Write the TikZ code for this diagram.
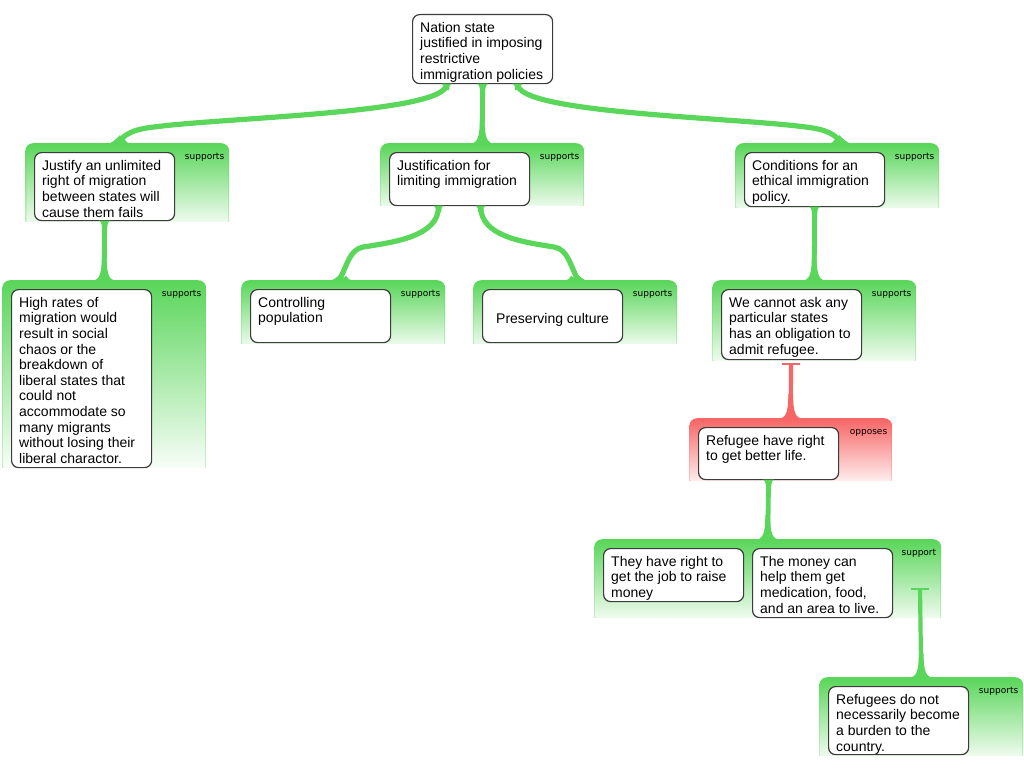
\documentclass[tikz,border=0pt]{standalone}
\usepackage{fontspec}
\setmainfont{Liberation Sans}
\newfontfamily\tagfont{DejaVu Sans}
\usetikzlibrary{positioning}
\definecolor{linkgreen}{RGB}{90,214,90}
\definecolor{linkred}{RGB}{247,102,102}
\definecolor{boxgray}{RGB}{60,60,60}

\begin{document}
\begin{tikzpicture}
		[x=1pt,y=-1pt,
		panel/.style={anchor=north west,inner sep=0,minimum width=204,fill=white,
			path picture={
				\shade[rounded corners=8,top color=#1,bottom color=#1!30!white]
					(path picture bounding box.north west) rectangle ([yshift=-9]path picture bounding box.south east);
				\shade[rounded corners=7,top color=#1,bottom color=white]
					([xshift=1.4,yshift=-1]path picture bounding box.north west) rectangle ([xshift=-1.4,yshift=-9]path picture bounding box.south east);
			}},
		argbox/.style={draw=boxgray,line width=1.2,fill=white,rounded corners=7,
			anchor=north west,inner sep=0,minimum width=140},
		argtext/.style={anchor=north west,inner sep=0,align=left,
			font=\fontsize{14}{15.6}\selectfont},
		tag/.style={anchor=north east,inner sep=0,text height=6.5pt,
			font=\tagfont\fontsize{9}{11}\selectfont},
		link/.style={draw=#1,line width=4.8},
		pics/footflare/.style={code={\fill[#1] (-12.5,0.5) .. controls (-5,0.5) and (-2.4,-5) .. (-2.4,-24)
			-- (2.4,-24) .. controls (2.4,-5) and (5,0.5) .. (12.5,0.5) -- cycle;}},
		pics/sweepflare/.style={code={
			\fill[#1] (-10,0.5) .. controls (-5,0.5) and (-1,-4) .. (3,-8) -- (4,0.5) -- cycle;
			\fill[#1] (16,0.5) .. controls (10,0.5) and (8,-1.5) .. (7,-4.2) -- (0,0.5) -- cycle;}},
		pics/headflare/.style={code={\fill[#1] (-5.5,-0.5) .. controls (-3,1) and (-2.4,3) .. (-2.4,13)
			-- (2.4,13) .. controls (2.4,3) and (3,1) .. (5.5,-0.5) -- cycle;}},
		pics/tipflare/.style={code={\fill[#1] (-5,-0.5) .. controls (-3,0.5) and (-2.6,2) .. (-2.6,6)
			-- (2.6,6) .. controls (2.6,2) and (3,0.5) .. (5,-0.5) -- cycle;}}]
		\useasboundingbox (0,0) rectangle (1024,768);

		% panels
		\node[panel=linkgreen,minimum height=78] (p1) at (25,143) {};
		\node[panel=linkgreen,minimum height=62] (p2) at (380,143) {};
		\node[panel=linkgreen,minimum height=64] (p3) at (735,143) {};
		\node[panel=linkgreen,minimum height=187] (p4) at (2,280) {};
		\node[panel=linkgreen,minimum height=63] (p5) at (241,280) {};
		\node[panel=linkgreen,minimum height=63] (p6) at (473,280) {};
		\node[panel=linkgreen,minimum height=80] (p7) at (712,280) {};
		\node[panel=linkred,minimum height=62,minimum width=203] (p8) at (689,418) {};
		\node[panel=linkgreen,minimum height=78,minimum width=347] (p9) at (594,539) {};
		\node[panel=linkgreen,minimum height=78] (p10) at (819,677) {};

		\foreach \p/\word in {p1/supports, p2/supports, p3/supports, p4/supports, p5/supports,
			p6/supports, p7/supports, p8/opposes, p9/support, p10/supports}
		{
			\node[tag,below left=10pt and 5pt of \p.north east] (\p tag) {\word};
		}

		% claims
		\node[argbox,minimum height=69] (nation) at (412,14) {};
		\node[argtext,below right=8pt and 8pt of nation.north west] (nationT)
			{Nation state\\justified in imposing\\restrictive\\immigration policies};

		\node[argbox,minimum height=68,below right=9pt and 9pt of p1.north west] (justify) {};
		\node[argtext,below right=8pt and 8pt of justify.north west] (justifyT)
			{Justify an unlimited\\right of migration\\between states will\\cause them fails};

		\node[argbox,minimum height=53,below right=9pt and 9pt of p2.north west] (justif) {};
		\node[argtext,below right=8pt and 8pt of justif.north west] (justifT)
			{Justification for\\limiting immigration};

		\node[argbox,minimum height=54,below right=9pt and 9pt of p3.north west] (conditions) {};
		\node[argtext,below right=8pt and 8pt of conditions.north west] (conditionsT)
			{Conditions for an\\ethical immigration\\policy.};

		\node[argbox,minimum height=178,below right=9pt and 9pt of p4.north west] (highrates) {};
		\node[argtext,below right=8pt and 8pt of highrates.north west] (highratesT)
			{High rates of\\migration would\\result in social\\chaos or the\\breakdown of\\liberal states that\\could not\\accommodate so\\many migrants\\without losing their\\liberal charactor.};

		\node[argbox,minimum height=53,below right=9pt and 9pt of p5.north west] (population) {};
		\node[argtext,below right=8pt and 8pt of population.north west] (populationT)
			{Controlling\\population};

		\node[argbox,minimum height=53,below right=9pt and 9pt of p6.north west] (culture) {};
		\node[argtext,anchor=center] (cultureT) at ([yshift=-4]culture.center) {Preserving culture};

		\node[argbox,minimum height=70,below right=9pt and 9pt of p7.north west] (cannotask) {};
		\node[argtext,below right=8pt and 8pt of cannotask.north west] (cannotaskT)
			{We cannot ask any\\particular states\\has an obligation to\\admit refugee.};

		\node[argbox,minimum height=52,below right=9pt and 9pt of p8.north west] (refugee) {};
		\node[argtext,below right=8pt and 8pt of refugee.north west] (refugeeT)
			{Refugee have right\\to get better life.};

		\node[argbox,minimum height=53,below right=9pt and 9pt of p9.north west] (job) {};
		\node[argtext,below right=8pt and 8pt of job.north west] (jobT)
			{They have right to\\get the job to raise\\money};

		\node[argbox,minimum height=69,below right=9pt and 158pt of p9.north west] (money) {};
		\node[argtext,below right=8pt and 8pt of money.north west] (moneyT)
			{The money can\\help them get\\medication, food,\\and an area to live.};

		\node[argbox,minimum height=68,below right=9pt and 9pt of p10.north west] (burden) {};
		\node[argtext,below right=8pt and 8pt of burden.north west] (burdenT)
			{Refugees do not\\necessarily become\\a burden to the\\country.};

		% links
		\foreach \upper/\lower in {nation/p2, justify/p4, conditions/p7, refugee/p9}
		{
			\draw[link=linkgreen] (\upper.south) -- (\lower.north);
			\pic at (\upper.south) {headflare=linkgreen};
			\pic at (\lower.north) {footflare=linkgreen};
		}

		\draw[link=linkgreen,line width=5.2] ([xshift=-36]nation.south)
			.. controls +(0,28) and +(80,-9) .. ([shift={(35,-17)}]p1.north)
			.. controls +(-22,2.5) and +(11,-13) .. ([xshift=-10]p1.north);
		\draw[link=linkgreen,line width=5.2] ([xshift=35]nation.south)
			.. controls +(0,28) and +(-80,-9) .. ([shift={(-40,-17)}]p3.north)
			.. controls +(22,2.5) and +(-11,-13) .. ([xshift=5]p3.north);
		\draw[link=linkgreen,line width=5.2] ([xshift=-21]justif.south)
			.. controls +(0,30) and +(32,-5) .. ([shift={(20,-33)}]p5.north)
			.. controls +(-14,2.5) and +(8,-14) .. ([xshift=-4]p5.north);
		\draw[link=linkgreen,line width=5.2] ([xshift=21]justif.south)
			.. controls +(0,30) and +(-32,-5) .. ([shift={(-21,-33)}]p6.north)
			.. controls +(14,2.5) and +(-8,-14) .. ([xshift=3]p6.north);
		\foreach \upper/\ushift/\lower/\lshift/\side in {nation/-36/p1/-10/1, nation/35/p3/5/-1,
			justif/-21/p5/-4/1, justif/21/p6/3/-1}
		{
			\pic at ([xshift=\ushift]\upper.south) {tipflare=linkgreen};
			\pic[xscale=\side] at ([xshift=\lshift]\lower.north) {sweepflare=linkgreen};
		}

		\coordinate (tRed) at (791,364);
		\coordinate (tGreen) at (920,589);
		\foreach \tee/\lower/\col in {tRed/p8/linkred, tGreen/p10/linkgreen}
		{
			\draw[link=\col,line width=4.2] (\lower.north) -- (\tee);
			\draw[\col,line width=1.6] ([xshift=-9]\tee) -- ([xshift=9]\tee);
			\pic at (\lower.north) {footflare=\col};
		}
\end{tikzpicture}
\end{document}
